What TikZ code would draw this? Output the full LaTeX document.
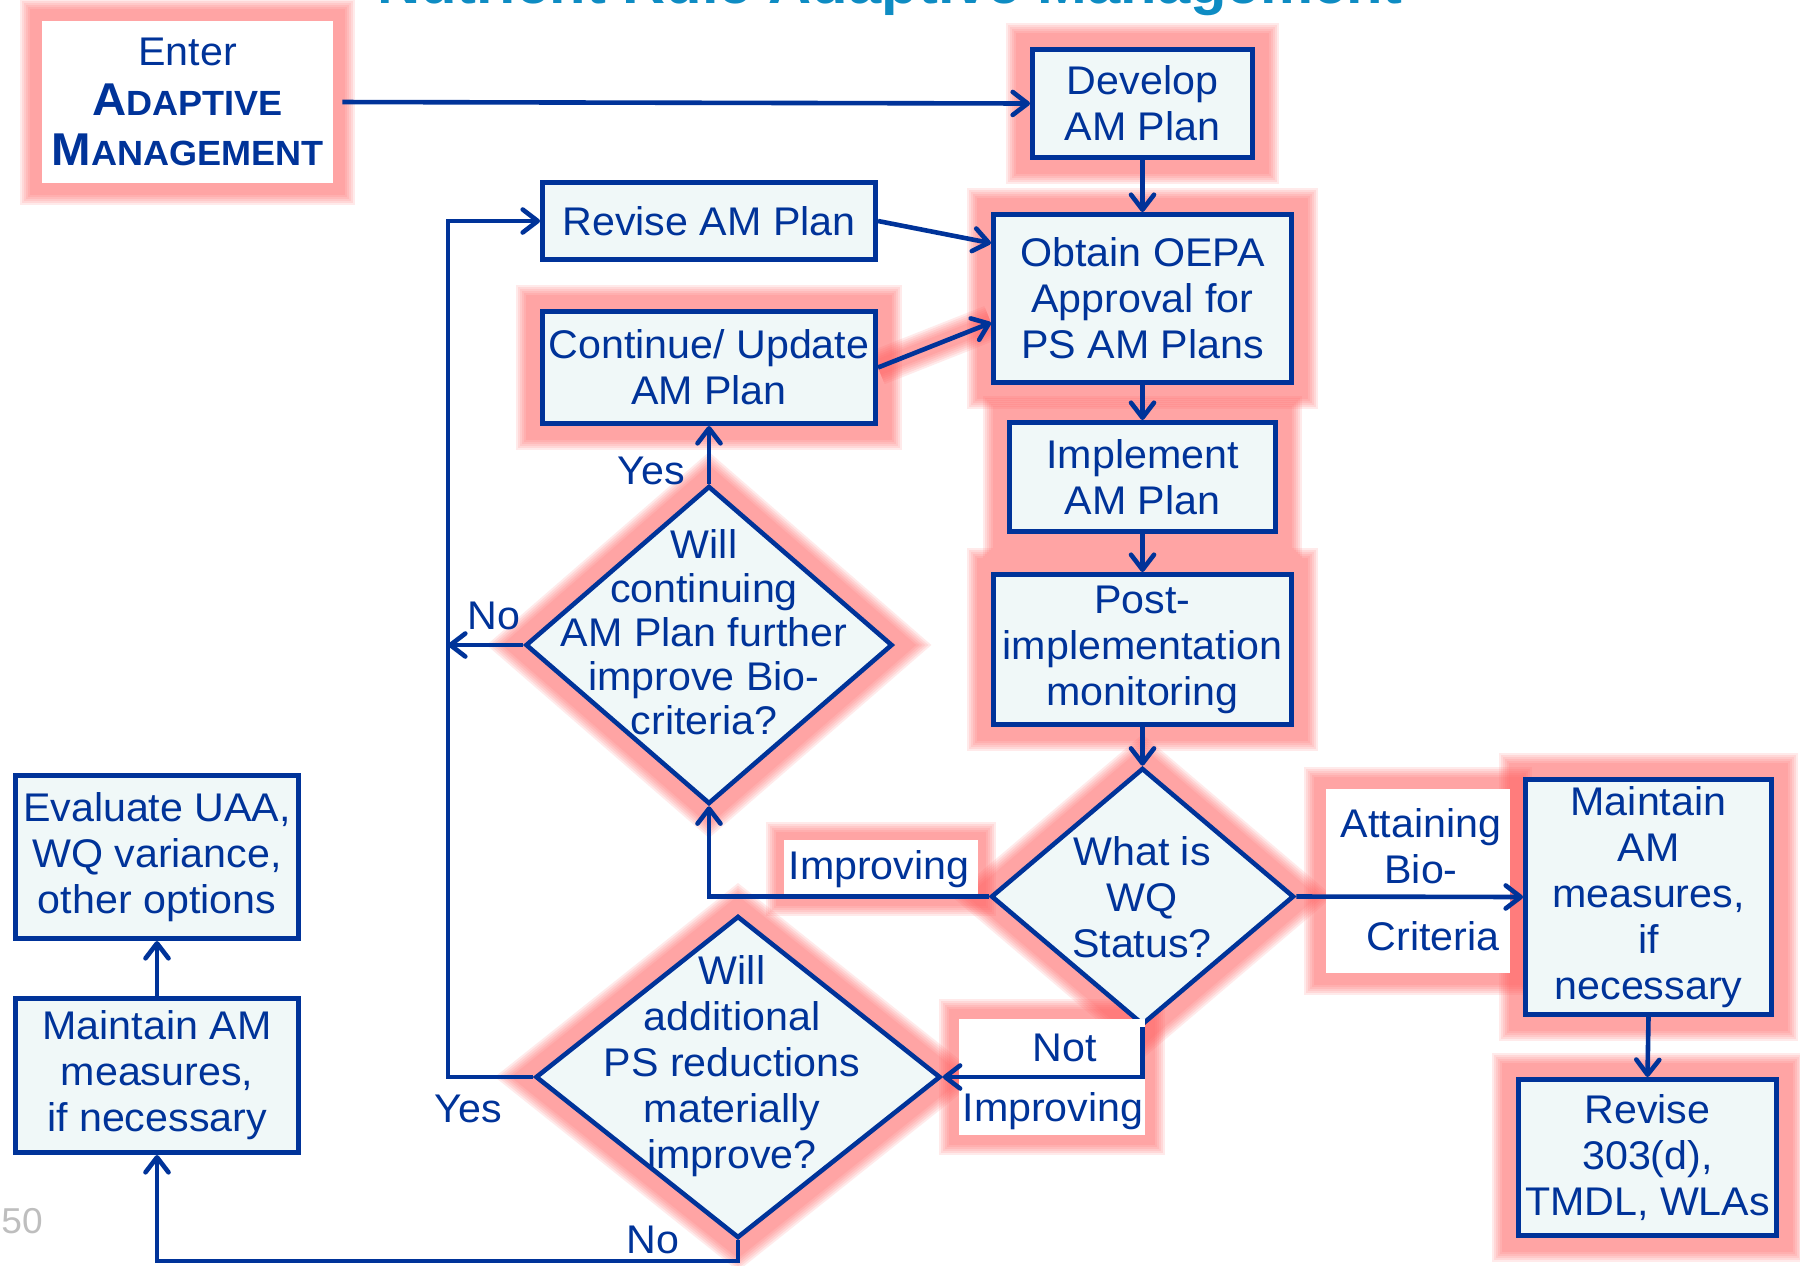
\documentclass[tikz,border=0pt]{standalone}
\usepackage{fontspec}
\setmainfont{Liberation Sans}[FakeStretch=1.03]
\usetikzlibrary{shapes.geometric,arrows.meta,calc,backgrounds}

\definecolor{navy}{RGB}{0,51,153}
\definecolor{boxfill}{RGB}{240,248,248}
\definecolor{glowc}{RGB}{255,90,90}
\definecolor{titlec}{RGB}{14,140,195}
\definecolor{pagenum}{RGB}{190,190,190}

% soft pink halo: several translucent strokes of decreasing width
\newcommand\glowpath[2]{%
  \foreach \d in {2,1,0,-1,-2,-3}{%
    \draw[glowc, line width={2*(#1+\d)*1pt}, opacity=0.125, line join=miter] #2;
  }}
% bold fake small caps
\newcommand\capsword[2]{{\bfseries\fontsize{23}{25}\selectfont #1\fontsize{17.5}{25}\selectfont #2}}

\tikzset{
  every node/.style={text=navy, font=\fontsize{20}{23}\selectfont},
  box/.style={draw=navy, line width=2.5pt, fill=boxfill, align=center, inner sep=0pt},
  decision/.style={diamond, draw=navy, line width=2.3pt, fill=boxfill, inner sep=0pt},
  flow/.style={draw=navy, line width=2.3pt, -{Straight Barb[length=7.5pt,width=11.5pt,round]}},
  lbl/.style={align=center, inner sep=0pt},
  frame/.style={fill=white, inner sep=0pt},
}

\begin{document}
\begin{tikzpicture}[x=0.5pt, y=-0.5pt]
\useasboundingbox (0,0) rectangle (1800,1265);

% heading, cut by the page edge
\begin{scope}
  \clip (0,0) rectangle (1800,1265);
  \node[anchor=base, text=titlec, font=\bfseries\fontsize{29}{31}\selectfont, inner sep=0pt]
    (title) at (890,3) {Nutrient Rule Adaptive Management};
\end{scope}

% process boxes
\node[fill=white, inner sep=0pt, align=center, minimum width=145.5pt, minimum height=81pt,
      font=\fontsize{20}{25}\selectfont] (enter) at (187.5,102)
  {Enter\\\capsword{A}{DAPTIVE}\\\capsword{M}{ANAGEMENT}};
\node[box, minimum width=110pt, minimum height=54pt] (develop) at (1142.5,103.5) {Develop\\AM Plan};
\node[box, minimum width=149pt, minimum height=84pt] (obtain) at (1142.5,298.5) {Obtain OEPA\\Approval for\\PS AM Plans};
\node[box, minimum width=166.5pt, minimum height=38.5pt] (revise) at (709,221) {Revise AM Plan};
\node[box, minimum width=166.5pt, minimum height=56pt] (continue) at (709,367.5) {Continue/ Update\\AM Plan};
\node[box, minimum width=133pt, minimum height=54.5pt] (implement) at (1142.5,477) {Implement\\AM Plan};
\node[box, minimum width=149pt, minimum height=75pt] (post) at (1142.5,649.5) {Post-\\implementation\\monitoring};
\node[box, minimum width=123pt, minimum height=117.5pt] (maintainR) at (1648.5,897) {Maintain\\AM\\measures,\\if\\necessary};
\node[box, minimum width=129pt, minimum height=78pt] (revise303) at (1647.5,1157.5) {Revise\\303(d),\\TMDL, WLAs};
\node[box, minimum width=141.5pt, minimum height=81.5pt] (evaluate) at (157,857) {Evaluate UAA,\\WQ variance,\\other options};
\node[box, minimum width=141.5pt, minimum height=77pt] (maintainL) at (157,1075.5) {Maintain AM\\measures,\\if necessary};

% decisions
\node[decision, minimum width=151.5pt, minimum height=128.5pt] (wq) at (1142.5,896.5) {};
\node[lbl] (wqtext) at (1142,897) {What is\\WQ\\Status?};
\node[decision, minimum width=183.5pt, minimum height=159pt] (cont) at (709,645) {};
\node[lbl, font=\fontsize{20}{22}\selectfont] (conttext) at (704,632) {Will\\continuing\\AM Plan further\\improve Bio-\\criteria?};
\node[decision, minimum width=202.5pt, minimum height=161pt] (ps) at (738,1077) {};
\node[lbl] (pstext) at (732,1066) {Will\\additional\\PS reductions\\materially\\improve?};

% branch labels
\node[frame, minimum width=97pt, minimum height=29pt] (impframe) at (881,869) {};
\node[lbl] (imptext) at (879,869) {Improving};
\node[frame, minimum width=93pt, minimum height=58pt] (nimframe) at (1052,1077) {};
\node[lbl] (nottext) at (1065,1048) {Not};
\node[lbl] (nimtext) at (1053,1111) {Improving};
\node[frame, minimum width=92pt, minimum height=92pt] (attframe) at (1418,881) {};
\node[lbl] (atttext) at (1421,846) {Attaining\\Bio-};
\node[lbl] (crittext) at (1433,936) {Criteria};
\node[lbl] (yes1) at (651,471) {Yes};
\node[lbl] (no1) at (494,616) {No};
\node[lbl] (yes2) at (468,1109) {Yes};
\node[lbl] (no2) at (653,1240) {No};

% slide number
\node[anchor=base west, text=pagenum, font=\fontsize{18}{20}\selectfont, inner sep=0pt] (pnum) at (1,1233) {50};

% halos behind the shapes
\begin{pgfonlayer}{background}
  \glowpath{9}{(enter.north west) rectangle (enter.south east)}
  \glowpath{10}{(develop.north west) rectangle (develop.south east)}
  \glowpath{10}{(obtain.north west) rectangle (obtain.south east)}
  \glowpath{10}{(continue.north west) rectangle (continue.south east)}
  \glowpath{10}{(implement.north west) rectangle (implement.south east)}
  \glowpath{10}{(post.north west) rectangle (post.south east)}
  \glowpath{10}{(maintainR.north west) rectangle (maintainR.south east)}
  \glowpath{10}{(revise303.north west) rectangle (revise303.south east)}
  \glowpath{10}{(wq.north) -- (wq.east) -- (wq.south) -- (wq.west) -- cycle}
  \glowpath{10}{(cont.north) -- (cont.east) -- (cont.south) -- (cont.west) -- cycle}
  \glowpath{10}{(ps.north) -- (ps.east) -- (ps.south) -- (ps.west) -- cycle}
  \glowpath{7}{(impframe.north west) rectangle (impframe.south east)}
  \glowpath{8}{(nimframe.north west) rectangle (nimframe.south east)}
  \glowpath{9}{(attframe.north west) rectangle (attframe.south east)}
  \glowpath{7}{(continue.east) -- ($(obtain.north west)!0.64!(obtain.south west)$)}
\end{pgfonlayer}

% connectors
\coordinate (loopx) at (448,645);
\coordinate (bottomy) at (157,1261);
\draw[flow, shorten <=4.5pt] (enter.east) -- (develop.west);
\draw[flow] (develop.south) -- (obtain.north);
\draw[flow] (obtain.south) -- (implement.north);
\draw[flow] (implement.south) -- (post.north);
\draw[flow] (post.south) -- (wq.north);
\draw[flow] (wq.east) -- (maintainR.west);
\draw[flow] (maintainR.south) -- (revise303.north);
\draw[flow] (revise.east) -- ($(obtain.north west)!0.18!(obtain.south west)$);
\draw[flow] (continue.east) -- ($(obtain.north west)!0.64!(obtain.south west)$);
\draw[flow] (wq.west) -| (cont.south);
\draw[flow] (wq.south) |- (ps.east);
\draw[flow] (cont.north) -- (continue.south);
\draw[flow] (cont.west) -- (loopx);
\draw[flow] (ps.west) -| (revise.west -| loopx) -- (revise.west);
\draw[flow] (ps.south) |- (bottomy) -- (maintainL.south);
\draw[flow] (maintainL.north) -- (evaluate.south);
\end{tikzpicture}
\end{document}
